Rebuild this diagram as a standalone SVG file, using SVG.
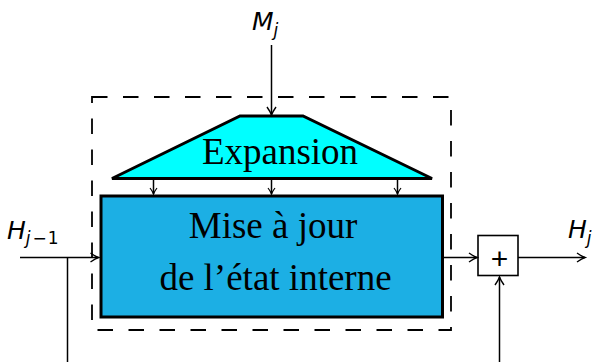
<svg xmlns="http://www.w3.org/2000/svg" width="597" height="362" viewBox="0 0 597 362">
<defs>
<style>
.c{fill:none;stroke:#000;stroke-width:1.5}
.m{font-family:"DejaVu Sans","Liberation Sans",sans-serif;font-style:italic;fill:#000}
.t{font-family:"Liberation Serif","Times New Roman",serif;font-size:37px;fill:#000;text-anchor:middle}
</style>
<marker id="ah" markerUnits="userSpaceOnUse" markerWidth="14" markerHeight="12" viewBox="-10 -6 12 12" refX="0" refY="0" orient="auto">
<path d="M-8,-4.5 Q-3,-1 0,0 Q-3,1 -8,4.5" fill="none" stroke="#000" stroke-width="1.4"/>
</marker>
<marker id="sh" markerUnits="userSpaceOnUse" markerWidth="10" markerHeight="10" viewBox="-7 -5 9 10" refX="0" refY="0" orient="auto">
<path d="M-6,-3.5 Q-2.5,-0.8 0,0 Q-2.5,0.8 -6,3.5" fill="none" stroke="#000" stroke-width="1.2"/>
</marker>
</defs>
<rect width="597" height="362" fill="#fff"/>
<g id="boundary">
<rect x="92" y="97" width="359" height="233" fill="none" stroke="#000" stroke-width="1.8" stroke-dasharray="15.5,15.5"/>
</g>
<g id="expansion">
<polygon points="240,116 303,116 432,178.5 112,178.5" fill="#00ffff" stroke="#000" stroke-width="3" stroke-linejoin="miter"/>
<text class="t" x="280" y="164">Expansion</text>
</g>
<g id="mise_a_jour">
<rect x="101" y="196" width="341.5" height="121" fill="#1cafe4" stroke="#000" stroke-width="3"/>
<text class="t" x="273" y="238">Mise à jour</text>
<text class="t" x="275.5" y="290">de l’état interne</text>
</g>
<g id="plus">
<rect x="478" y="235.5" width="40" height="40" fill="#fff" stroke="#000" stroke-width="1.6"/>
<text x="499.5" y="269" font-family="Liberation Sans,Arial,sans-serif" font-size="30" text-anchor="middle">+</text>
</g>
<g id="labels">
<text class="m" x="252" y="30" font-size="25">M<tspan font-size="17" dy="6">j</tspan></text>
<text class="m" x="7" y="239" font-size="25">H<tspan font-size="17" dy="5">j</tspan><tspan font-size="17" font-style="normal" dx="2">−</tspan><tspan font-size="17" font-style="normal" dx="1">1</tspan></text>
<text class="m" x="568" y="238" font-size="25">H<tspan font-size="17" dy="6">j</tspan></text>
</g>
<g id="connectors">
<line class="c" x1="271.5" y1="45" x2="271.5" y2="115" marker-end="url(#ah)"/>
<line class="c" x1="153.5" y1="180" x2="153.5" y2="194" marker-end="url(#sh)"/>
<line class="c" x1="271.5" y1="180" x2="271.5" y2="194" marker-end="url(#sh)"/>
<line class="c" x1="397.5" y1="180" x2="397.5" y2="194" marker-end="url(#sh)"/>
<line class="c" x1="20" y1="257.5" x2="98.5" y2="257.5" marker-end="url(#ah)"/>
<line class="c" x1="67.5" y1="257.5" x2="67.5" y2="362"/>
<line class="c" x1="443" y1="257.5" x2="477" y2="257.5" marker-end="url(#ah)"/>
<line class="c" x1="518" y1="257.5" x2="585" y2="257.5" marker-end="url(#ah)"/>
<line class="c" x1="499.5" y1="362" x2="499.5" y2="277" marker-end="url(#ah)"/>
</g>
</svg>
